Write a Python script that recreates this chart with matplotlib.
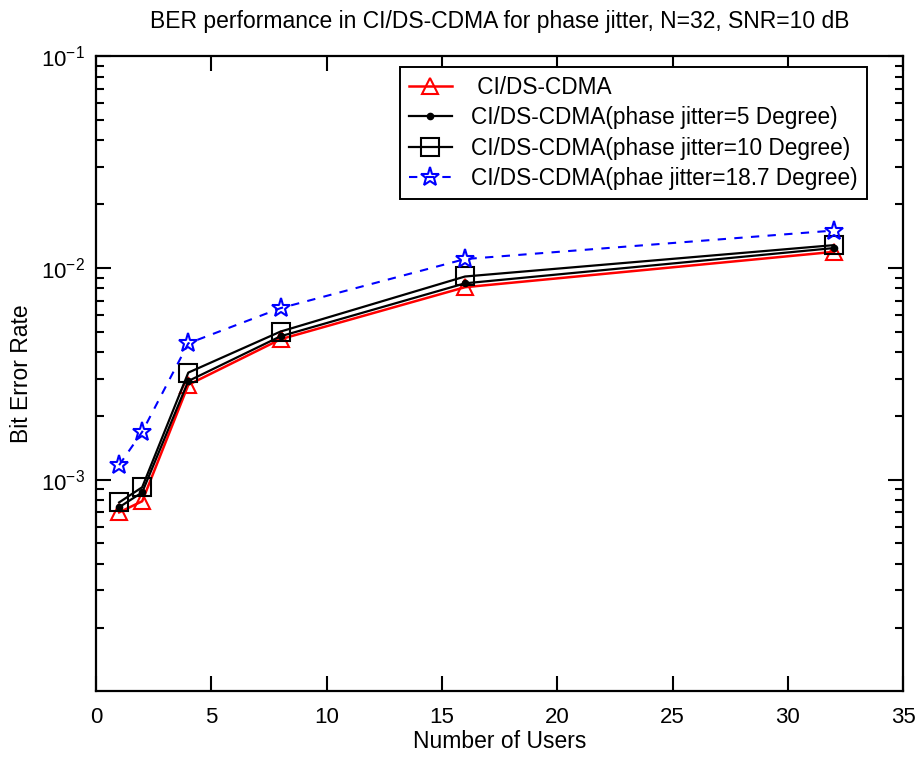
import numpy as np
import matplotlib
matplotlib.use('Agg')
import matplotlib.pyplot as plt
from matplotlib.ticker import LogLocator, NullFormatter, MultipleLocator

plt.rcParams['font.family'] = ['Liberation Sans', 'DejaVu Sans']
plt.rcParams['mathtext.fontset'] = 'custom'
plt.rcParams['mathtext.rm'] = 'Liberation Sans'

# number of active users
users = [1, 2, 4, 8, 16, 32]

# bit error rate for each case
ber_ideal = [7.0e-4, 7.9e-4, 2.8e-3, 4.6e-3, 8.1e-3, 1.19e-2]
ber_jitter5 = [7.4e-4, 8.7e-4, 2.92e-3, 4.75e-3, 8.45e-3, 1.24e-2]
ber_jitter10 = [7.8e-4, 9.2e-4, 3.2e-3, 5.0e-3, 9.1e-3, 1.28e-2]
ber_jitter187 = [1.17e-3, 1.68e-3, 4.4e-3, 6.45e-3, 1.10e-2, 1.50e-2]

labels = [' CI/DS-CDMA',
          'CI/DS-CDMA(phase jitter=5 Degree)',
          'CI/DS-CDMA(phase jitter=10 Degree)',
          'CI/DS-CDMA(phae jitter=18.7 Degree)']

fig = plt.figure(figsize=(9.15, 7.58), dpi=100)
ax = fig.add_axes([0.105, 0.088, 0.882, 0.838])

ax.semilogy(users, ber_ideal, color='red', linewidth=1.8, marker='^', markersize=12,
            markerfacecolor='none', markeredgecolor='red', markeredgewidth=1.5, label=labels[0])
ax.semilogy(users, ber_jitter5, color='black', linewidth=1.6, marker='.', markersize=9,
            label=labels[1])
ax.semilogy(users, ber_jitter10, color='black', linewidth=1.6, marker='s', markersize=13,
            markerfacecolor='none', markeredgecolor='black', markeredgewidth=1.5, label=labels[2])
ax.semilogy(users, ber_jitter187, color='blue', linewidth=1.5, linestyle=(0, (4, 4)),
            marker='*', markersize=14, markerfacecolor='none', markeredgecolor='blue',
            markeredgewidth=1.5, label=labels[3])

ax.set_xlim(0, 35)
ax.set_ylim(1e-4, 1e-1)
ax.xaxis.set_major_locator(MultipleLocator(5))
ax.set_yticks([1e-3, 1e-2, 1e-1])
ax.yaxis.set_minor_locator(LogLocator(base=10, subs=np.arange(2, 10)))
ax.yaxis.set_minor_formatter(NullFormatter())

ax.tick_params(which='both', direction='in', top=True, right=True, labelsize=16,
               width=1.5, pad=8)
ax.tick_params(axis='x', which='major', pad=11)
ax.tick_params(which='major', length=11)
ax.tick_params(which='minor', length=6)
for s in ax.spines.values():
    s.set_linewidth(1.6)

ax.set_title('BER performance in CI/DS-CDMA for phase jitter, N=32, SNR=10 dB',
             fontsize=16.5, pad=20)
ax.set_xlabel('Number of Users', fontsize=16.5, labelpad=2)
ax.set_ylabel('Bit Error Rate', fontsize=16.5, labelpad=6)

leg = ax.legend(loc='upper right', bbox_to_anchor=(0.955, 0.983), borderaxespad=0,
                fontsize=16.3, fancybox=False, edgecolor='black', framealpha=1,
                handlelength=1.9, handletextpad=0.85, labelspacing=0.33,
                borderpad=0.4)
leg.get_frame().set_linewidth(1.4)

fig.savefig('out.png', dpi=100, facecolor='white')
